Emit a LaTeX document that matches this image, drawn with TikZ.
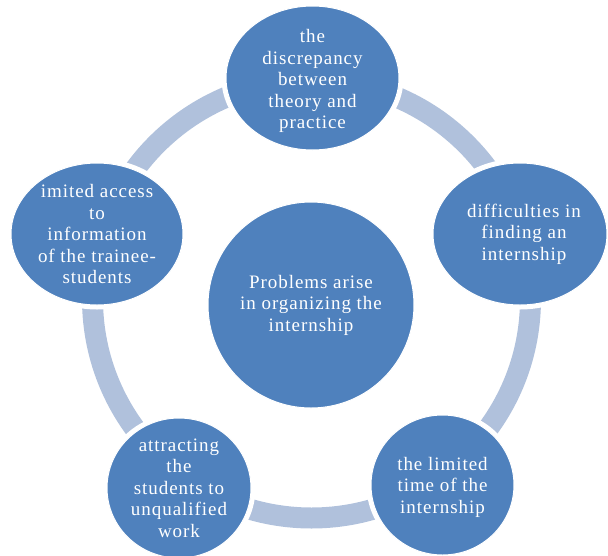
\documentclass[tikz,border=0pt]{standalone}
\usepackage{fontspec}
\setmainfont{Liberation Serif}[LetterSpace=5.0]
\usetikzlibrary{shapes.geometric}
\definecolor{bubblefill}{HTML}{4F81BD}
\definecolor{ringfill}{HTML}{B0C1DC}
\begin{document}
\begin{tikzpicture}[x=1pt, y=-1pt,
    bubble/.style={ellipse, inner sep=0pt, fill=bubblefill, draw=white, line width=1pt,
      preaction={draw=white, line width=9pt}},
    caption/.style={text=white, align=center, font=\fontsize{19}{21.5}\selectfont}]
  \useasboundingbox (0,0) rectangle (608,555);
  % ring behind the bubbles
  \coordinate (O) at (311.5,299);
  \draw[ringfill, line width=21pt] (O) circle[radius=219pt];
  % bubbles
  \node[bubble, minimum width=206pt, minimum height=206pt] (C) at (311,305) {};
  \node[bubble, minimum width=173pt, minimum height=144pt] (D) at (312.5,78) {};
  \node[bubble, minimum width=174pt, minimum height=142pt] (F) at (520,234) {};
  \node[bubble, minimum width=143pt, minimum height=140pt] (L) at (442.5,485) {};
  \node[bubble, minimum width=144pt, minimum height=140pt] (U) at (179,488) {};
  \node[bubble, minimum width=172pt, minimum height=142pt] (I) at (97,234) {};
  % texts
  \node[caption] at (C) {Problems arise\\ in organizing the\\ internship};
  \node[caption, yshift=-3pt] at (D) {the\\ discrepancy\\ between\\ theory and\\ practice};
  \node[caption, xshift=4pt] at (F) {difficulties in\\ finding an\\ internship};
  \node[caption, yshift=-2pt] at (L) {the limited\\ time of the\\ internship};
  \node[caption] at (U) {attracting\\ the\\ students to\\ unqualified\\ work};
  \node[caption] at (I) {imited access\\ to\\ information\\ of the trainee-\\ students};
\end{tikzpicture}
\end{document}
